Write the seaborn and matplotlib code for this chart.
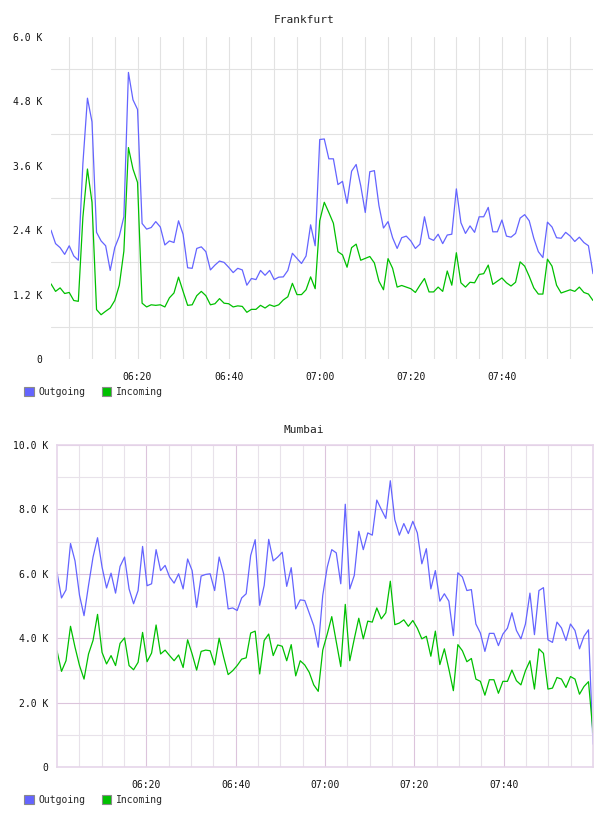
import numpy as np
import pandas as pd
import matplotlib
matplotlib.use("Agg")
import matplotlib.pyplot as plt
import matplotlib.dates as mdates
from matplotlib.patches import Patch
from matplotlib.ticker import FixedLocator, FuncFormatter
import seaborn as sns

# ---------------- data (values in K) ----------------
fra_out = [2.4, 2.15, 2.075, 1.95, 2.11, 1.92, 1.84, 3.64, 4.86, 4.42,
           2.36, 2.2, 2.11, 1.65, 2.075, 2.29, 2.65, 5.34, 4.83, 4.65,
           2.525, 2.42, 2.45, 2.56, 2.46, 2.125, 2.2, 2.17, 2.575, 2.325,
           1.7, 1.69, 2.06, 2.09, 2.0, 1.66, 1.75, 1.825, 1.8, 1.71,
           1.61, 1.69, 1.66, 1.375, 1.5, 1.48, 1.65, 1.56, 1.65, 1.48,
           1.525, 1.53, 1.65, 1.97, 1.875, 1.78, 1.92, 2.5, 2.11, 4.09,
           4.1, 3.73, 3.73, 3.25, 3.31, 2.9, 3.5, 3.625, 3.23, 2.73,
           3.49, 3.51, 2.86, 2.44, 2.56, 2.26, 2.06, 2.26, 2.29, 2.2,
           2.06, 2.14, 2.65, 2.25, 2.21, 2.325, 2.15, 2.31, 2.325, 3.17,
           2.54, 2.34, 2.48, 2.36, 2.65, 2.65, 2.825, 2.37, 2.37, 2.59,
           2.29, 2.27, 2.34, 2.625, 2.69, 2.575, 2.25, 2.0, 1.89, 2.55,
           2.46, 2.26, 2.25, 2.36, 2.29, 2.19, 2.27, 2.17, 2.11, 1.59]
fra_in = [1.4, 1.26, 1.325, 1.22, 1.24, 1.09, 1.075, 2.64, 3.54, 2.92,
          0.92, 0.825, 0.89, 0.95, 1.09, 1.375, 2.01, 3.94, 3.54, 3.29,
          1.04, 0.97, 1.01, 1.0, 1.01, 0.97, 1.14, 1.23, 1.525, 1.26,
          1.0, 1.01, 1.18, 1.26, 1.18, 1.01, 1.03, 1.125, 1.04, 1.03,
          0.97, 0.99, 0.98, 0.87, 0.925, 0.925, 1.0, 0.95, 1.01, 0.98,
          1.01, 1.1, 1.16, 1.41, 1.2, 1.2, 1.29, 1.53, 1.31, 2.575,
          2.92, 2.73, 2.53, 2.0, 1.94, 1.71, 2.075, 2.14, 1.84, 1.875,
          1.91, 1.79, 1.45, 1.29, 1.87, 1.69, 1.34, 1.37, 1.34, 1.31,
          1.24, 1.375, 1.5, 1.25, 1.25, 1.34, 1.26, 1.64, 1.375, 1.98,
          1.42, 1.34, 1.43, 1.42, 1.575, 1.59, 1.75, 1.39, 1.45, 1.51,
          1.42, 1.36, 1.43, 1.81, 1.73, 1.54, 1.325, 1.21, 1.21, 1.86,
          1.73, 1.375, 1.23, 1.26, 1.29, 1.26, 1.34, 1.24, 1.21, 1.09]

mum_out = [6.05, 5.25, 5.5, 6.94, 6.4, 5.33, 4.7, 5.64, 6.52, 7.12,
           6.21, 5.56, 6.02, 5.4, 6.23, 6.52, 5.53, 5.07, 5.48, 6.85,
           5.63, 5.69, 6.75, 6.1, 6.26, 5.9, 5.71, 6.0, 5.53, 6.46,
           6.1, 4.96, 5.93, 5.98, 6.0, 5.48, 6.52, 6.0, 4.91, 4.94,
           4.86, 5.25, 5.38, 6.57, 7.06, 5.02, 5.64, 7.07, 6.4, 6.52,
           6.67, 5.61, 6.19, 4.91, 5.19, 5.17, 4.78, 4.39, 3.72, 5.33,
           6.21, 6.75, 6.65, 5.69, 8.16, 5.53, 5.95, 7.32, 6.75, 7.27,
           7.2, 8.29, 8.0, 7.72, 8.89, 7.68, 7.2, 7.56, 7.25, 7.63,
           7.27, 6.31, 6.78, 5.53, 6.1, 5.15, 5.38, 5.15, 4.08, 6.03,
           5.9, 5.48, 5.51, 4.44, 4.16, 3.59, 4.15, 4.15, 3.77, 4.13,
           4.31, 4.79, 4.24, 3.98, 4.44, 5.4, 4.11, 5.48, 5.57, 3.95,
           3.87, 4.5, 4.32, 3.93, 4.44, 4.24, 3.67, 4.06, 4.26, 0.71]
mum_in = [3.61, 2.97, 3.3, 4.37, 3.72, 3.15, 2.73, 3.51, 3.93, 4.74,
          3.56, 3.2, 3.46, 3.15, 3.84, 4.01, 3.15, 3.02, 3.25, 4.18,
          3.27, 3.54, 4.41, 3.51, 3.63, 3.46, 3.3, 3.48, 3.09, 3.95,
          3.51, 3.01, 3.59, 3.63, 3.61, 3.17, 4.0, 3.41, 2.87, 2.99,
          3.15, 3.35, 3.39, 4.16, 4.22, 2.89, 3.93, 4.13, 3.46, 3.79,
          3.75, 3.3, 3.8, 2.83, 3.3, 3.17, 2.94, 2.55, 2.35, 3.63,
          4.13, 4.67, 3.89, 3.12, 5.05, 3.3, 3.98, 4.62, 3.98, 4.53,
          4.5, 4.94, 4.6, 4.79, 5.77, 4.42, 4.47, 4.57, 4.37, 4.55,
          4.31, 3.98, 4.06, 3.44, 4.22, 3.18, 3.67, 3.04, 2.37, 3.8,
          3.61, 3.27, 3.37, 2.73, 2.66, 2.23, 2.71, 2.71, 2.29, 2.66,
          2.66, 3.01, 2.68, 2.55, 2.99, 3.3, 2.42, 3.67, 3.53, 2.42,
          2.45, 2.78, 2.73, 2.47, 2.81, 2.73, 2.26, 2.5, 2.65, 1.07]

series_names = ["Outgoing", "Incoming"]
series_colors = ["#6464ff", "#00c000"]
titles = ["Frankfurt", "Mumbai"]
fra_times = pd.date_range("2024-01-01 06:01", "2024-01-01 08:00", periods=len(fra_out))
mum_times = pd.date_range("2024-01-01 06:00", "2024-01-01 08:00", periods=len(mum_out))

def long_df(times, out, inc):
    return pd.concat([
        pd.DataFrame({"time": times, "value": np.array(out) * 1000, "series": "Outgoing"}),
        pd.DataFrame({"time": times, "value": np.array(inc) * 1000, "series": "Incoming"}),
    ], ignore_index=True)

df_fra = long_df(fra_times, fra_out, fra_in)
df_mum = long_df(mum_times, mum_out, mum_in)

# ---------------- style ----------------
sns.set_style("white")
plt.rcParams["font.family"] = ["DejaVu Sans Mono", "DejaVu Sans"]
plt.rcParams["font.size"] = 7

W, H = 608, 816
fig = plt.figure(figsize=(W / 100, H / 100), dpi=100)

def px_axes(l, t, r, b):
    return fig.add_axes([l / W, 1 - b / H, (r - l) / W, (b - t) / H])

ax1 = px_axes(51, 37, 593, 359)
ax2 = px_axes(57, 445, 593, 767)

palette = dict(zip(series_names, series_colors))

def kfmt(v, pos):
    return "0" if abs(v) < 1e-9 else f"{v / 1000:.1f} K"

def five_min(start, end):
    return [mdates.date2num(t) for t in pd.date_range(start, end, freq="5min")]

major_times = [mdates.date2num(pd.Timestamp(f"2024-01-01 {h}")) for h in
               ["06:20", "06:40", "07:00", "07:20", "07:40"]]

# ---- Frankfurt ----
sns.lineplot(data=df_fra, x="time", y="value", hue="series", palette=palette,
             hue_order=series_names, linewidth=0.9, ax=ax1, legend=False)
ax1.set_xlim(pd.Timestamp("2024-01-01 06:01"), pd.Timestamp("2024-01-01 08:00"))
ax1.set_ylim(0, 6000)
ax1.yaxis.set_major_locator(FixedLocator(np.arange(0, 6001, 1200)))
ax1.yaxis.set_minor_locator(FixedLocator(np.arange(600, 6000, 1200)))
ax1.yaxis.set_major_formatter(FuncFormatter(kfmt))
ax1.xaxis.set_major_locator(FixedLocator(major_times))
ax1.xaxis.set_minor_locator(FixedLocator(five_min("2024-01-01 06:05", "2024-01-01 07:55")))
ax1.xaxis.set_major_formatter(mdates.DateFormatter("%H:%M"))
ax1.grid(False)
ax1.grid(which="minor", axis="both", color="#e2e2e2", linewidth=0.8)
ax1.grid(which="major", axis="x", color="#e2e2e2", linewidth=0.8)
for s in ax1.spines.values():
    s.set_visible(False)

# ---- Mumbai ----
sns.lineplot(data=df_mum, x="time", y="value", hue="series", palette=palette,
             hue_order=series_names, linewidth=0.9, ax=ax2, legend=False)
ax2.set_xlim(pd.Timestamp("2024-01-01 06:00"), pd.Timestamp("2024-01-01 08:00"))
ax2.set_ylim(0, 10000)
ax2.yaxis.set_major_locator(FixedLocator(np.arange(0, 10001, 2000)))
ax2.yaxis.set_minor_locator(FixedLocator(np.arange(1000, 10000, 2000)))
ax2.yaxis.set_major_formatter(FuncFormatter(kfmt))
ax2.xaxis.set_major_locator(FixedLocator(major_times))
ax2.xaxis.set_minor_locator(FixedLocator(five_min("2024-01-01 06:05", "2024-01-01 07:55")))
ax2.xaxis.set_major_formatter(mdates.DateFormatter("%H:%M"))
ax2.grid(False)
ax2.grid(which="major", axis="both", color="#dcc4dc", linewidth=0.8)
ax2.grid(which="minor", axis="both", color="#e8e2ea", linewidth=0.8)
for s in ax2.spines.values():
    s.set_color("#e6d6ea")
    s.set_linewidth(1.2)

for ax in (ax1, ax2):
    ax.set_xlabel("")
    ax.set_ylabel("")
    ax.set_axisbelow(True)
    ax.tick_params(which="both", length=0)
    ax.tick_params(axis="y", pad=6, labelsize=7, labelcolor="#111111")
    ax.tick_params(axis="x", pad=9, labelsize=7, labelcolor="#111111")

# titles centred on the figure
fig.text(0.5, 1 - 20 / H, titles[0], ha="center", va="center", fontsize=8, color="#222222")
fig.text(0.5, 1 - 430 / H, titles[1], ha="center", va="center", fontsize=8, color="#222222")

# legends
handles = [Patch(facecolor=c, edgecolor="#8a8a8a", linewidth=0.8) for c in series_colors]
for ypx in (392, 800):
    fig.legend(handles, series_names, loc="center left",
               bbox_to_anchor=(24 / W, 1 - ypx / H), ncol=2, frameon=False,
               handlelength=1.0, handleheight=1.0, handletextpad=0.45,
               columnspacing=1.7, fontsize=7, borderpad=0, borderaxespad=0)

fig.savefig("out.png", dpi=100)
